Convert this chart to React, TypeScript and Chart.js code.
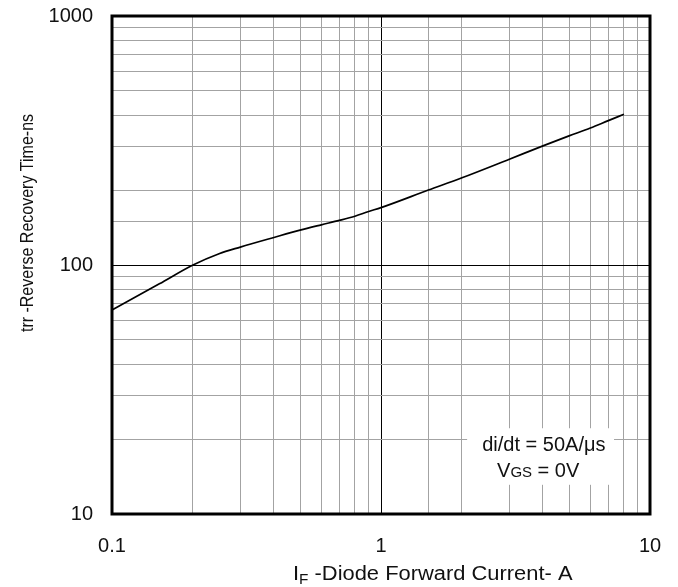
import React, { useEffect, useRef } from 'react';
import { Chart, registerables } from 'chart.js';

Chart.register(...registerables);

// Reverse recovery time vs. diode forward current
const forwardCurrent = [0.1, 0.15, 0.2, 0.25, 0.3, 0.4, 0.5, 0.6, 0.7, 0.8, 0.9, 1, 1.5, 2, 3, 4, 5, 6, 7, 8];
const recoveryTime = [66, 84, 100, 111, 118, 129, 138, 145, 151, 157, 164, 170, 200, 224, 266, 301, 330, 355, 380, 403];

// Labelled decades and the emphasised (black) grid lines
const xTickLabels = ['0.1', '1', '10'];
const yTickLabels = ['10', '100', '1000'];
const xMajorGrid = [1];
const yMajorGrid = [100];

// Test condition note
const conditionLine1 = 'di/dt = 50A/μs';
const conditionVgsMain = 'V';
const conditionVgsSub = 'GS';
const conditionVgsRest = ' = 0V';

const FONT = '"Liberation Sans", Arial, Helvetica, sans-serif';

const near = (a: number, b: number) => Math.abs(Math.log10(a) - Math.log10(b)) < 1e-6;

const labelFor = (labels: string[]) => (value: number | string) => {
  const v = Number(value);
  const hit = labels.find((l) => near(Number(l), v));
  return hit ?? '';
};

const gridColour = (majors: number[]) => (ctx: any) => {
  const v = ctx.tick ? Number(ctx.tick.value) : NaN;
  return majors.some((m) => near(m, v)) ? '#000000' : '#a3a3a3';
};

const overlay = {
  id: 'overlay',
  afterDraw(chart: any) {
    const { ctx, chartArea: a, scales } = chart;
    const xs = scales.x;
    const ys = scales.y;
    ctx.save();

    // condition note: white box that interrupts the grid
    const bx0 = xs.getPixelForValue(2.09);
    const bx1 = xs.getPixelForValue(7.35);
    const by0 = ys.getPixelForValue(22.1);
    const by1 = ys.getPixelForValue(13.1);
    ctx.fillStyle = '#ffffff';
    ctx.fillRect(bx0, by0, bx1 - bx0, by1 - by0);

    ctx.fillStyle = '#111111';
    ctx.textBaseline = 'middle';
    ctx.textAlign = 'center';
    ctx.font = `20px ${FONT}`;
    ctx.fillText(conditionLine1, xs.getPixelForValue(4.03), ys.getPixelForValue(18.9));

    // V with small-caps style "GS"
    const big = `20px ${FONT}`;
    const small = `15px ${FONT}`;
    ctx.font = big;
    const wV = ctx.measureText(conditionVgsMain).width;
    const wRest = ctx.measureText(conditionVgsRest).width;
    ctx.font = small;
    const wGS = ctx.measureText(conditionVgsSub).width;
    const total = wV + wGS + wRest;
    let cx = xs.getPixelForValue(3.84) - total / 2;
    const base = ys.getPixelForValue(15.0) + 7;
    ctx.textAlign = 'left';
    ctx.textBaseline = 'alphabetic';
    ctx.font = big;
    ctx.fillText(conditionVgsMain, cx, base);
    cx += wV;
    ctx.font = small;
    ctx.fillText(conditionVgsSub, cx, base);
    cx += wGS;
    ctx.font = big;
    ctx.fillText(conditionVgsRest, cx, base);

    // heavy plot frame
    ctx.strokeStyle = '#000000';
    ctx.lineWidth = 3;
    ctx.strokeRect(a.left, a.top, a.right - a.left, a.bottom - a.top);

    // x-axis title with subscript F, slightly widened lettering
    ctx.save();
    ctx.fillStyle = '#111111';
    ctx.translate(a.left + 181, a.bottom + 66);
    ctx.scale(1.095, 1);
    let tx = 0;
    ctx.font = `20px ${FONT}`;
    ctx.fillText('I', tx, 0);
    tx += ctx.measureText('I').width;
    ctx.font = `14px ${FONT}`;
    ctx.fillText('F', tx, 4);
    tx += ctx.measureText('F').width;
    ctx.font = `20px ${FONT}`;
    ctx.fillText(' -Diode Forward Current- A', tx, 0);
    ctx.restore();

    // y-axis title, rotated
    ctx.fillStyle = '#111111';
    ctx.translate(33, (a.top + a.bottom) / 2 - 42);
    ctx.scale(1.12, 1);
    ctx.rotate(-Math.PI / 2);
    ctx.textAlign = 'center';
    ctx.font = `16px ${FONT}`;
    ctx.fillText('trr -Reverse Recovery Time-ns', 0, 0);

    ctx.restore();
  },
};

export default function App() {
  const canvasRef = useRef<HTMLCanvasElement | null>(null);

  useEffect(() => {
    const canvas = canvasRef.current;
    if (!canvas) return;
    const chart = new Chart(canvas, {
      type: 'line',
      data: {
        datasets: [
          {
            data: forwardCurrent.map((x, i) => ({ x, y: recoveryTime[i] })),
            borderColor: '#000000',
            borderWidth: 1.7,
            pointRadius: 0,
            cubicInterpolationMode: 'monotone',
            fill: false,
          },
        ],
      },
      options: {
        animation: false,
        responsive: true,
        maintainAspectRatio: false,
        layout: { padding: { top: 16, right: 28, left: 0, bottom: 0 } },
        plugins: { legend: { display: false }, tooltip: { enabled: false }, title: { display: false } },
        scales: {
          x: {
            type: 'logarithmic',
            position: 'bottom',
            min: 0.1,
            max: 10,
            afterFit: (s: any) => {
              s.height = 73;
              s.paddingLeft = 0;
              s.paddingRight = 0;
            },
            border: { display: false },
            grid: { color: gridColour(xMajorGrid), lineWidth: 1, drawTicks: false },
            ticks: {
              autoSkip: false,
              maxRotation: 0,
              padding: 20,
              color: '#111111',
              font: { family: FONT, size: 20 },
              callback: labelFor(xTickLabels),
            },
          },
          y: {
            type: 'logarithmic',
            min: 10,
            max: 1000,
            afterFit: (s: any) => {
              s.width = 112;
              s.paddingTop = 0;
              s.paddingBottom = 0;
            },
            border: { display: false },
            grid: { color: gridColour(yMajorGrid), lineWidth: 1, drawTicks: false },
            ticks: {
              autoSkip: false,
              padding: 19,
              color: '#111111',
              font: { family: FONT, size: 20 },
              callback: labelFor(yTickLabels),
            },
          },
        },
      },
      plugins: [overlay],
    } as any);
    return () => chart.destroy();
  }, []);

  return (
    <div style={{ position: 'fixed', left: 0, top: 0, width: 678, height: 587, background: '#ffffff' }}>
      <canvas ref={canvasRef} />
    </div>
  );
}
